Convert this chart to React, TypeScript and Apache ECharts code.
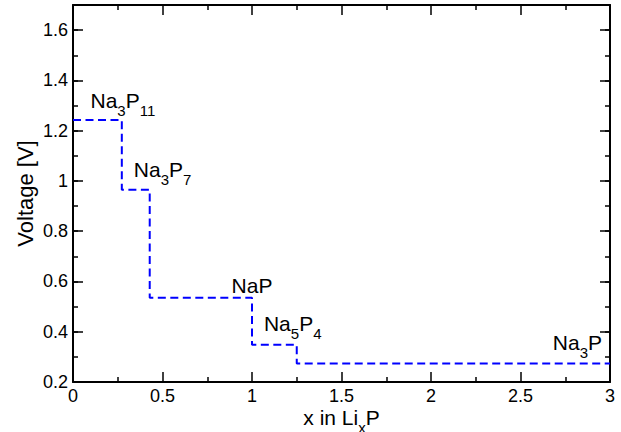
import React, { useEffect, useRef } from "react";
import * as echarts from "echarts";

// Composition steps (x in LixP) and plateau voltages
const xValues = [0, 0.2727, 0.4286, 1, 1.25, 3];
const voltages = [1.242, 0.965, 0.535, 0.348, 0.274, 0.274];

// Phase annotations (rich text: {s|..} = subscript)
const phaseLabels = ["Na{s|3}P{s|11}", "Na{s|3}P{s|7}", "NaP", "Na{s|5}P{s|4}", "Na{s|3}P"];
const labelX = [0.095, 0.337, 0.883, 1.064, 2.678];
const labelY = [1.32, 1.046, 0.582, 0.432, 0.359];

// Axis ranges
const xRange = [0, 3];
const yRange = [0.2, 1.7];

const FONT = "'Liberation Sans', Arial, Helvetica, sans-serif";

export default function App() {
  const ref = useRef<HTMLDivElement>(null);

  useEffect(() => {
    if (!ref.current) return;
    const chart = echarts.init(ref.current, null, { renderer: "svg" });

    const axisLine = { show: true, onZero: false, lineStyle: { color: "#000", width: 2 } };
    const subStyle = { fontSize: 15, lineHeight: 15, padding: [20, 0, 0, 0], fontFamily: FONT, color: "#000" };

    const xBase = (pos: string, labels: boolean) => ({
      type: "value",
      position: pos,
      min: xRange[0],
      max: xRange[1],
      interval: 0.5,
      axisLine,
      splitLine: { show: false },
      axisTick: { show: true, inside: true, length: 10, lineStyle: { color: "#000", width: 1.5 } },
      minorTick: { show: true, splitNumber: 2, length: 5, lineStyle: { color: "#000", width: 1.5 } },
      axisLabel: {
        show: labels,
        margin: 5,
        fontSize: 18,
        color: "#000",
        fontFamily: FONT,
      },
    });

    const yMajor = (pos: string, labels: boolean) => ({
      type: "value",
      position: pos,
      min: yRange[0],
      max: yRange[1],
      interval: 0.2,
      axisLine,
      splitLine: { show: false },
      axisTick: { show: true, inside: true, length: 10, lineStyle: { color: "#000", width: 1.5 } },
      axisLabel: {
        show: labels,
        margin: 5,
        fontSize: 18,
        color: "#000",
        fontFamily: FONT,
        showMaxLabel: false,
      },
    });

    const yMinor = (pos: string) => ({
      type: "value",
      position: pos,
      min: yRange[0],
      max: yRange[1],
      interval: 0.1,
      axisLine: { show: false, onZero: false },
      splitLine: { show: false },
      axisTick: { show: true, inside: true, length: 5, lineStyle: { color: "#000", width: 1.5 } },
      axisLabel: { show: false },
    });

    const stepData = xValues.map((x, i) => [x, voltages[i]]);
    const labelData = phaseLabels.map((t, i) => ({ value: [labelX[i], labelY[i]], name: t }));

    chart.setOption({
      animation: false,
      backgroundColor: "#fff",
      grid: { left: 73, top: 5, width: 537, height: 377, containLabel: false, outerBoundsMode: "none" },
      xAxis: [
        {
          ...xBase("bottom", true),
          name: "x in Li{s|x}P",
          nameLocation: "middle",
          nameGap: 23,
          nameMoveOverlap: false,
          nameTextStyle: {
            fontSize: 21,
            lineHeight: 24,
            color: "#000",
            fontFamily: FONT,
            rich: { s: subStyle },
          },
        },
        xBase("top", false),
      ],
      yAxis: [
        {
          ...yMajor("left", true),
          name: "Voltage [V]",
          nameLocation: "middle",
          nameGap: 37,
          nameMoveOverlap: false,
          nameTextStyle: { fontSize: 22, color: "#000", fontFamily: FONT },
        },
        yMajor("right", false),
        yMinor("left"),
        yMinor("right"),
      ],
      series: [
        {
          type: "line",
          step: "end",
          data: stepData,
          xAxisIndex: 0,
          yAxisIndex: 0,
          symbol: "none",
          lineStyle: { color: "#0000ff", width: 2, type: [8, 4.5] },
          silent: true,
          z: 3,
        },
        {
          type: "scatter",
          data: labelData,
          xAxisIndex: 0,
          yAxisIndex: 0,
          symbol: "circle",
          symbolSize: 1,
          itemStyle: { color: "rgba(0,0,0,0)" },
          silent: true,
          z: 4,
          label: {
            show: true,
            position: "right",
            distance: 0,
            align: "left",
            verticalAlign: "middle",
            formatter: (p: any) => p.name,
            fontSize: 21,
            lineHeight: 24,
            color: "#000",
            opacity: 1,
            fontFamily: FONT,
            rich: { s: subStyle },
          },
        },
      ],
    });

    return () => chart.dispose();
  }, []);

  return (
    <div
      ref={ref}
      style={{ position: "fixed", left: 0, top: 0, width: 621, height: 432, background: "#fff" }}
    />
  );
}
